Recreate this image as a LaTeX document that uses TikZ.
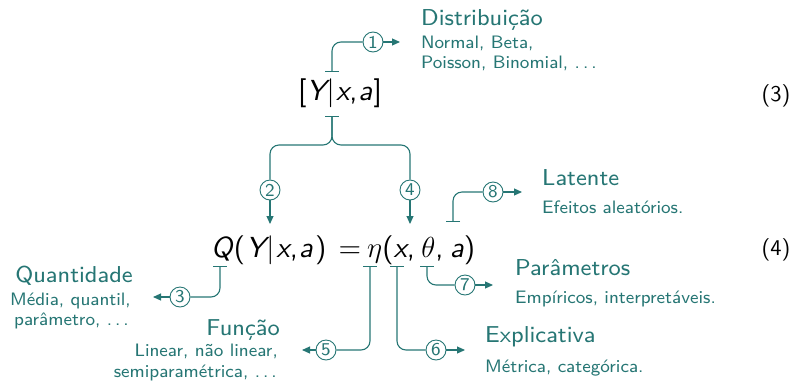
\RequirePackage{fix-cm}
\documentclass[tikz,border=0pt]{standalone}
\usepackage{fontspec}
\usetikzlibrary{arrows.meta}
\newfontfamily\fsmall{lmsans8-regular.otf}[ItalicFont=lmsans8-oblique.otf]
\newfontfamily\fbig{lmsans10-regular.otf}[ItalicFont=lmsans10-oblique.otf]
\definecolor{tl}{RGB}{38,118,116}
\newcommand\vv[1]{{\itshape #1}}
\newcommand\tdots{.\kern0.17em.\kern0.17em.}
\tikzset{
 lnk/.style={draw=tl, line width=1.1pt, rounded corners=9pt},
 tick/.style={lnk, {Bar[width=14pt,line width=1.1pt]}-},
 arr/.style={lnk, -{Triangle[length=8pt,width=7pt]}},
 num/.style={circle, draw=tl, line width=0.9pt, fill=white, inner sep=0pt, minimum size=20pt, text=tl, font=\fsmall\fontsize{18}{18}\selectfont},
 head/.style={text=tl, font=\fsmall\fontsize{23}{23}\selectfont, inner sep=0pt},
 sub/.style={text=tl, font=\fsmall\fontsize{18}{18}\selectfont, inner sep=0pt},
 eq/.style={font=\fbig\fontsize{29}{29}\selectfont, inner sep=0pt},
 eqn/.style={font=\fbig\fontsize{22.5}{22.5}\selectfont, inner sep=0pt},
}
\begin{document}
\begin{tikzpicture}[x=1pt,y=-1pt]
\useasboundingbox (0,0) rectangle (799,381);
% equations
\node[eq, anchor=base west] (E3) at (298,100) {[\vv{Y}\kern0.02em|\kern0.05em\vv{x},\kern0.03em\vv{a}\kern0.05em]};
\node[eqn, anchor=base] (N3) at (776,101) {(3)};
\node[eq, anchor=base west] (E4a) at (211,257) {\vv{Q}\kern0.05em(\kern0.03em\vv{Y}\kern0.03em|\kern0.07em\vv{x},\kern0.03em\vv{a}\kern0.08em)};
\node[eq, anchor=base] (E4b) at (350,257) {=};
\node[eq, anchor=base west] (E4c) at (367,257) {$\eta$(\vv{x},\kern0.22em$\theta$,\kern0.22em\vv{a})};
\node[eqn, anchor=base] (N4) at (776,255) {(4)};
% labels
\node[head, anchor=base west] (L1) at (421,25) {Distribuição};
\node[sub, anchor=base west] (L1a) at (421,48) {Normal, Beta,};
\node[sub, anchor=base west] (L1b) at (421,68) {Poisson, Binomial, \tdots};
\node[head, anchor=base west] (L8) at (542,185) {Latente};
\node[sub, anchor=base west] (L8a) at (542,213) {Efeitos aleatórios.};
\node[head, anchor=base west] (L7) at (515,275) {Parâmetros};
\node[sub, anchor=base west] (L7a) at (515,303) {Empíricos, interpretáveis.};
\node[head, anchor=base west] (L6) at (485,342) {Explicativa};
\node[sub, anchor=base west] (L6a) at (485,372) {Métrica, categórica.};
\node[head, anchor=base east] (L3) at (133,282) {Quantidade};
\node[sub, anchor=base east] (L3a) at (131,305) {Média, quantil,};
\node[sub, anchor=base east] (L3b) at (129,325) {parâmetro, \tdots};
\node[head, anchor=base east] (L5) at (280,335) {Função};
\node[sub, anchor=base east] (L5a) at (278,356) {Linear, não linear,};
\node[sub, anchor=base east] (L5b) at (277,377) {semiparamétrica, \tdots};
% circles
\node[num] (c1) at (373,42) {1};
\node[num] (c2) at (270,190) {2};
\node[num] (c4) at (410,190) {4};
\node[num] (c3) at (180,297) {3};
\node[num] (c5) at (326,350) {5};
\node[num] (c6) at (436,350) {6};
\node[num] (c7) at (465,285) {7};
\node[num] (c8) at (493,192) {8};
% coordinates
\coordinate (t1) at (332,72);
\coordinate (tb) at (332,116);
\coordinate (tQ) at (220,266);
\coordinate (te) at (370,266);
\coordinate (tx) at (397,266);
\coordinate (tt) at (427,266);
\coordinate (ta) at (453,222);
\coordinate (e1) at (400,42);
\coordinate (e2) at (270,224);
\coordinate (e4) at (410,224);
\coordinate (e3) at (153,297);
\coordinate (e5) at (302,350);
\coordinate (e6) at (465,350);
\coordinate (e7) at (493,285);
\coordinate (e8) at (522,192);
% connectors
\draw[tick] (t1) |- (c1);
\draw[arr] (c1) -- (e1);
\draw[tick] (tb) -- (332,145) -| (c2);
\draw[lnk] (tb) -- (332,145) -| (c4);
\draw[arr] (c2) -- (e2);
\draw[arr] (c4) -- (e4);
\draw[tick] (tQ) |- (c3);
\draw[arr] (c3) -- (e3);
\draw[tick] (te) |- (c5);
\draw[arr] (c5) -- (e5);
\draw[tick] (tx) |- (c6);
\draw[arr] (c6) -- (e6);
\draw[tick] (tt) |- (c7);
\draw[arr] (c7) -- (e7);
\draw[tick] (ta) |- (c8);
\draw[arr] (c8) -- (e8);
\end{tikzpicture}
\end{document}
